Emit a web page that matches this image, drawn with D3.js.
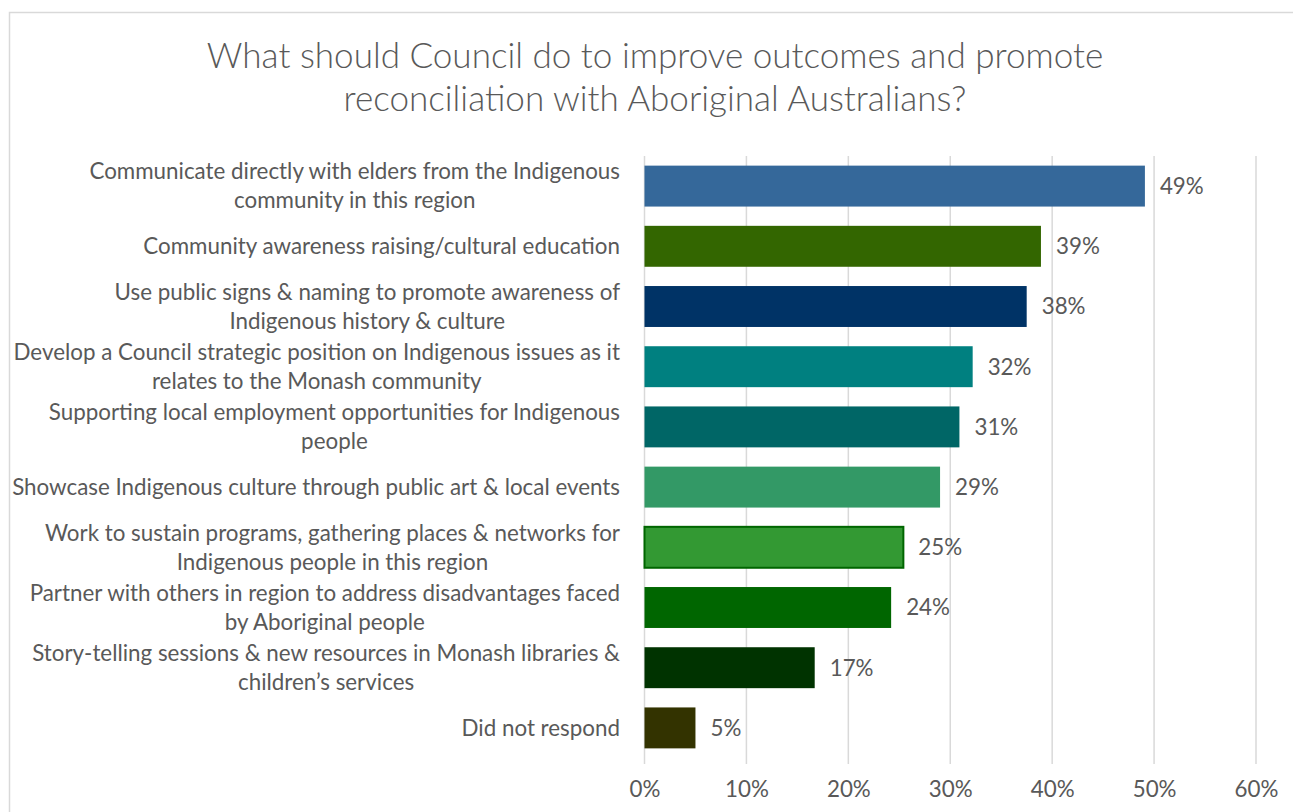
<!DOCTYPE html>
<html><head><meta charset="utf-8">
<script src="https://cdn.jsdelivr.net/npm/d3@7"></script>
<style>
html,body{margin:0;padding:0;background:#fff;overflow:hidden;}
text{font-family:Lato,"Open Sans",sans-serif;}
</style></head>
<body><svg id="chart" width="1293" height="812"></svg>
<script>
const titleLines = ["What should Council do to improve outcomes and promote","reconciliation with Aboriginal Australians?"];
const categories = [
  "Communicate directly with elders from the Indigenous\ncommunity in this region",
  "Community awareness raising/cultural education",
  "Use public signs & naming to promote awareness of\nIndigenous history & culture",
  "Develop a Council strategic position on Indigenous issues as it\nrelates to the Monash community",
  "Supporting local employment opportunities for Indigenous\npeople",
  "Showcase Indigenous culture through public art & local events",
  "Work to sustain programs, gathering places & networks for\nIndigenous people in this region",
  "Partner with others in region to address disadvantages faced\nby Aboriginal people",
  "Story-telling sessions & new resources in Monash libraries &\nchildren\u2019s services",
  "Did not respond"
];
const values = [49.1, 38.9, 37.5, 32.2, 30.9, 29.0, 25.4, 24.2, 16.7, 5.0];
const valueLabels = ["49%","39%","38%","32%","31%","29%","25%","24%","17%","5%"];
const barColors = ["#35689a","#336600","#003366","#008080","#006666","#339966","#339933","#006600","#003300","#333300"];
const barStrokes = [null,null,null,null,null,null,"#006600",null,null,null];
const tickValues = [0,10,20,30,40,50,60];

const svg = d3.select("#chart");
const textColor = "#595959";

// chart border
svg.append("rect").attr("x",9.5).attr("y",12.5).attr("width",1300).attr("height",820)
  .attr("fill","#fff").attr("stroke","#d9d9d9").attr("stroke-width",1.5);

const x = d3.scaleLinear().domain([0,60]).range([644.5,1256]);
const y = d3.scaleBand().domain(categories).range([156,758]).paddingInner(0.32).paddingOuter(0.16);

function fitSize(str, base, target, weight){
  const t = svg.append("text").style("font-size", base+"px").style("font-weight",weight||400).text(str);
  const w = t.node().getComputedTextLength();
  t.remove();
  return base*target/w;
}
const titleSize = fitSize(titleLines[0], 30, 897, 300);
const labelSize = fitSize("Showcase Indigenous culture through public art & local events", 20, 608);

// title
svg.append("g").selectAll("text").data(titleLines).join("text")
  .attr("x",655).attr("y",(d,i)=>68+i*43)
  .attr("text-anchor","middle").attr("fill",textColor)
  .style("font-size",titleSize+"px").style("font-weight",300).text(d=>d);

// gridlines
svg.append("g").selectAll("line").data(tickValues).join("line")
  .attr("x1",d=>x(d)).attr("x2",d=>x(d)).attr("y1",156).attr("y2",764)
  .attr("stroke","#d9d9d9").attr("stroke-width",1.5);

// x axis tick labels
const xAxis = d3.axisBottom(x).tickValues(tickValues).tickFormat(d=>d+"%").tickSize(0).tickPadding(0);
const gx = svg.append("g").attr("transform","translate(0,781)").call(xAxis);
gx.select(".domain").remove();
gx.selectAll("text").attr("fill",textColor).style("font-size",labelSize+"px").style("font-family","Lato,'Open Sans',sans-serif");

// bars
svg.append("g").selectAll("rect").data(categories).join("rect")
  .attr("x",x(0)).attr("y",d=>y(d))
  .attr("width",(d,i)=>x(values[i])-x(0)).attr("height",y.bandwidth())
  .attr("fill",(d,i)=>barColors[i])
  .attr("stroke",(d,i)=>barStrokes[i]||"none").attr("stroke-width",2);

// value labels
svg.append("g").selectAll("text").data(categories).join("text")
  .attr("x",(d,i)=>x(values[i])+15).attr("y",d=>y(d)+y.bandwidth()/2)
  .attr("dy","0.35em").attr("fill",textColor).style("font-size",labelSize+"px")
  .text((d,i)=>valueLabels[i]);

// category labels (right aligned block, lines centred)
const lg = svg.append("g");
categories.forEach(c=>{
  const lines = c.split("\n");
  const cy = y(c)+y.bandwidth()/2;
  const lh = 29;
  const t = lg.append("text").attr("fill",textColor).style("font-size",labelSize+"px").attr("text-anchor","middle");
  const widths = lines.map(l=>{
    const tt = svg.append("text").style("font-size",labelSize+"px").text(l);
    const w = tt.node().getComputedTextLength(); tt.remove(); return w;
  });
  const maxW = d3.max(widths);
  const cx = 620 - maxW/2;
  lines.forEach((l,i)=>{
    t.append("tspan").attr("x",cx).attr("y",cy + (i-(lines.length-1)/2)*lh).attr("dy","0.35em").text(l);
  });
});
</script></body></html>
